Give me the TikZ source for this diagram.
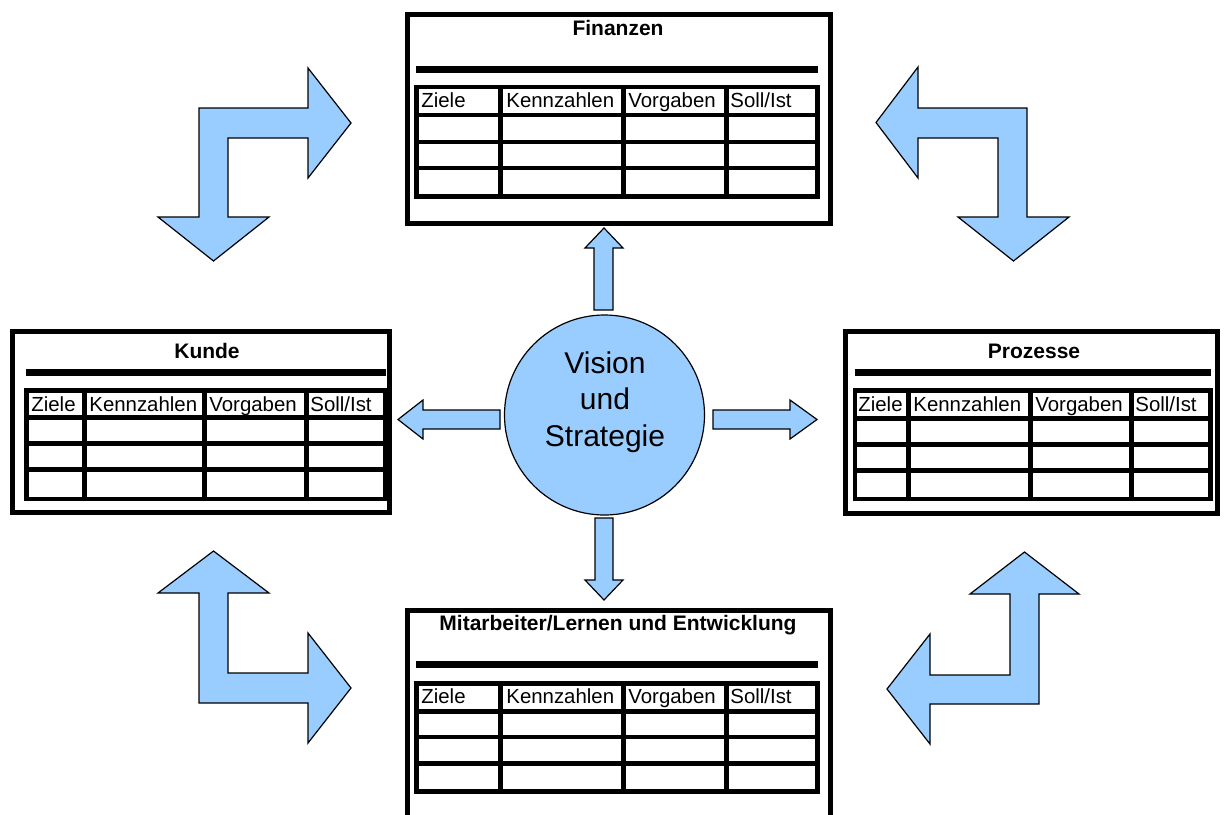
\documentclass[tikz,border=0pt]{standalone}
\usepackage{fontspec}
\setmainfont{Liberation Sans}
\definecolor{arrowblue}{HTML}{99CCFF}
\tikzset{
  frame/.style={draw=black, line width=2.5pt},
  sepline/.style={draw=black, line width=3.3pt},
  gridline/.style={draw=black, line width=2.3pt},
  blockarrow/.style={fill=arrowblue, draw=black, line width=0.6pt, line join=miter},
  boxtitle/.style={anchor=base, inner sep=0pt, font=\bfseries\fontsize{10.5}{12}\selectfont},
  hdr/.style={anchor=base west, inner sep=0pt, font=\fontsize{10.2}{12}\selectfont},
}
% grid of a scorecard table: #1 column lines, #2 row lines, #3/#4 outer x, #5/#6 outer y
\newcommand\scoregrid[6]{%
  \foreach \cx in {#1} \draw[gridline] (\cx,#5) -- (\cx,#6);
  \foreach \ry in {#2} \draw[gridline] (#3,\ry) -- (#4,\ry);
  \draw[gridline] (#3,#5) rectangle (#4,#6);
}
\begin{document}
\begin{tikzpicture}[x=0.5pt, y=-0.5pt]
\useasboundingbox (0,0) rectangle (1226,814);
\fill[white] (0,0) rectangle (1226,814);
\clip (0,0) rectangle (1226,814);

% ---------- Finanzen ----------
\draw[frame] (407.5,14.5) rectangle (830.5,223.5);
\node[boxtitle] (fintitle) at (618,35) {Finanzen};
\draw[sepline] (416,69.5) -- (818,69.5);
\scoregrid{500.5,623.5,726.5}{115,142,168}{416.5}{817.5}{87}{196.5}
\node[hdr] (finz) at (421,107) {Ziele};
\node[hdr] (fink) at (506,107) {Kennzahlen};
\node[hdr] (finv) at (628,107) {Vorgaben};
\node[hdr] (fins) at (730,107) {Soll/Ist};

% ---------- Kunde ----------
\draw[frame] (12.5,331.5) rectangle (389.5,512.5);
\node[boxtitle] (kutitle) at (207,358) {Kunde};
\draw[sepline] (26,372.5) -- (386,372.5);
\scoregrid{84.5,204.5,306.5}{417.5,443.5,469.5}{26.5}{385.5}{390.5}{499}
\node[hdr] (kuz) at (31,411) {Ziele};
\node[hdr] (kuk) at (89,411) {Kennzahlen};
\node[hdr] (kuv) at (209,411) {Vorgaben};
\node[hdr] (kus) at (310,411) {Soll/Ist};

% ---------- Prozesse ----------
\draw[frame] (845.5,331.5) rectangle (1217.5,513.5);
\node[boxtitle] (prtitle) at (1034,358) {Prozesse};
\draw[sepline] (855,372.5) -- (1211,372.5);
\scoregrid{908.5,1030.5,1131.5}{418.5,444.5,470.5}{855}{1210.5}{390.5}{499}
\node[hdr] (prz) at (858,411) {Ziele};
\node[hdr] (prk) at (913,411) {Kennzahlen};
\node[hdr] (prv) at (1035,411) {Vorgaben};
\node[hdr] (prs) at (1135,411) {Soll/Ist};

% ---------- Mitarbeiter/Lernen und Entwicklung ----------
\draw[frame] (407.5,830) -- (407.5,610.5) -- (830.5,610.5) -- (830.5,830);
\node[boxtitle] (matitle) at (618,630) {Mitarbeiter/Lernen und Entwicklung};
\draw[sepline] (416,664.5) -- (818,664.5);
\scoregrid{500.5,623.5,726.5}{711.5,737,763.5}{416.5}{817.5}{683.5}{791.5}
\node[hdr] (maz) at (421,703) {Ziele};
\node[hdr] (mak) at (506,703) {Kennzahlen};
\node[hdr] (mav) at (628,703) {Vorgaben};
\node[hdr] (mas) at (730,703) {Soll/Ist};

% ---------- Vision und Strategie ----------
\node[circle, fill=arrowblue, draw=black, line width=0.6pt, minimum size=100pt, inner sep=0pt] (vision) at (604.5,415) {};
\node[align=center, inner sep=0pt, font=\fontsize{15}{18.3}\selectfont] (visiontxt) at (605,402) {Vision\\und\\Strategie};

% ---------- straight block arrows from the centre ----------
\draw[blockarrow] (594,310) -- (594,248) -- (585,248) -- (604,228) -- (623,248) -- (613,248) -- (613,310) -- cycle;
\draw[blockarrow] (500,410) -- (423,410) -- (423,400) -- (398,419.5) -- (423,439) -- (423,429) -- (500,429) -- cycle;
\draw[blockarrow] (713,410) -- (790,410) -- (790,400) -- (817,419.5) -- (790,439) -- (790,429) -- (713,429) -- cycle;
\draw[blockarrow] (595,518) -- (595,580) -- (585,580) -- (604,600) -- (623,580) -- (613,580) -- (613,518) -- cycle;

% ---------- bent block arrows between the perspectives ----------
\draw[blockarrow] (199,217) -- (199,108) -- (308,108) -- (308,68) -- (351,123) -- (308,178) -- (308,138) -- (228,138) -- (228,217) -- (269,217) -- (213.5,261) -- (158,217) -- cycle;
\draw[blockarrow] (1027,217) -- (1027,108) -- (918,108) -- (918,67) -- (876,122.5) -- (918,178) -- (918,138) -- (998,138) -- (998,217) -- (958,217) -- (1013.5,261) -- (1069,217) -- cycle;
\draw[blockarrow] (199,593) -- (199,703) -- (308,703) -- (308,743) -- (351,688) -- (308,633) -- (308,673) -- (228,673) -- (228,593) -- (269,593) -- (213.5,551) -- (158,593) -- cycle;
\draw[blockarrow] (1039,594) -- (1039,704) -- (930,704) -- (930,744) -- (887,689) -- (930,634) -- (930,675) -- (1010,675) -- (1010,594) -- (970,594) -- (1024.5,552) -- (1079,594) -- cycle;
\end{tikzpicture}
\end{document}
